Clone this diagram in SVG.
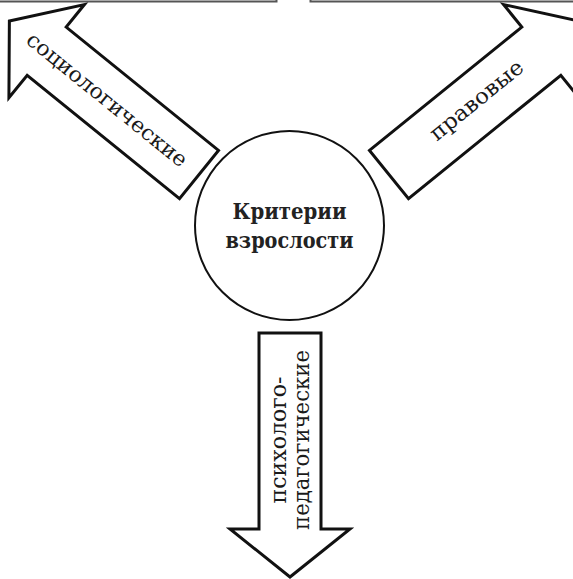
<svg xmlns="http://www.w3.org/2000/svg" width="573" height="579" viewBox="0 0 573 579">
<style>
.box{fill:none;stroke:#555;stroke-width:2}
.arrow{fill:#fff;stroke:#111;stroke-width:3;stroke-linejoin:miter}
.hub{fill:#fff;stroke:#111;stroke-width:2}
.lbl{font-family:"DejaVu Serif","Liberation Serif",serif;font-size:21.5px;fill:#1a1a1a;text-anchor:middle}
.title{font-family:"DejaVu Serif","Liberation Serif",serif;font-size:22.5px;font-weight:bold;fill:#222;text-anchor:middle}
</style>
<defs>
<path id="arr" d="M0,-31 H196 V-60 L244,0 L196,60 V31 H0 Z"/>
</defs>
<g id="top-boxes">
<path class="box" d="M0,1.5 H276.5 V0"/>
<path class="box" d="M310.5,0 V1.5 H573"/>
</g>
<g id="connectors">
<g id="arrow-social">
<use href="#arr" class="arrow" transform="translate(199,174.5) rotate(219)"/>
<text class="lbl" transform="translate(106,101) rotate(39)" y="5.5" textLength="200" lengthAdjust="spacingAndGlyphs">социологические</text>
</g>
<g id="arrow-legal">
<use href="#arr" class="arrow" transform="translate(389,174.5) rotate(-39)"/>
<text class="lbl" transform="translate(477.5,101.5) rotate(-39)" y="5.5" textLength="114" lengthAdjust="spacingAndGlyphs">правовые</text>
</g>
<g id="arrow-psych">
<use href="#arr" class="arrow" transform="translate(290,333) rotate(90)"/>
<text class="lbl" transform="translate(286,440) rotate(-90)" textLength="127" lengthAdjust="spacingAndGlyphs">психолого-</text>
<text class="lbl" transform="translate(309,440) rotate(-90)" textLength="180" lengthAdjust="spacingAndGlyphs">педагогические</text>
</g>
</g>
<g id="hub">
<circle class="hub" cx="289.5" cy="225.5" r="94.5"/>
<text class="title" x="289.5" y="219.3" textLength="114" lengthAdjust="spacingAndGlyphs">Критерии</text>
<text class="title" x="289.5" y="248.3" textLength="128" lengthAdjust="spacingAndGlyphs">взрослости</text>
</g>
</svg>
